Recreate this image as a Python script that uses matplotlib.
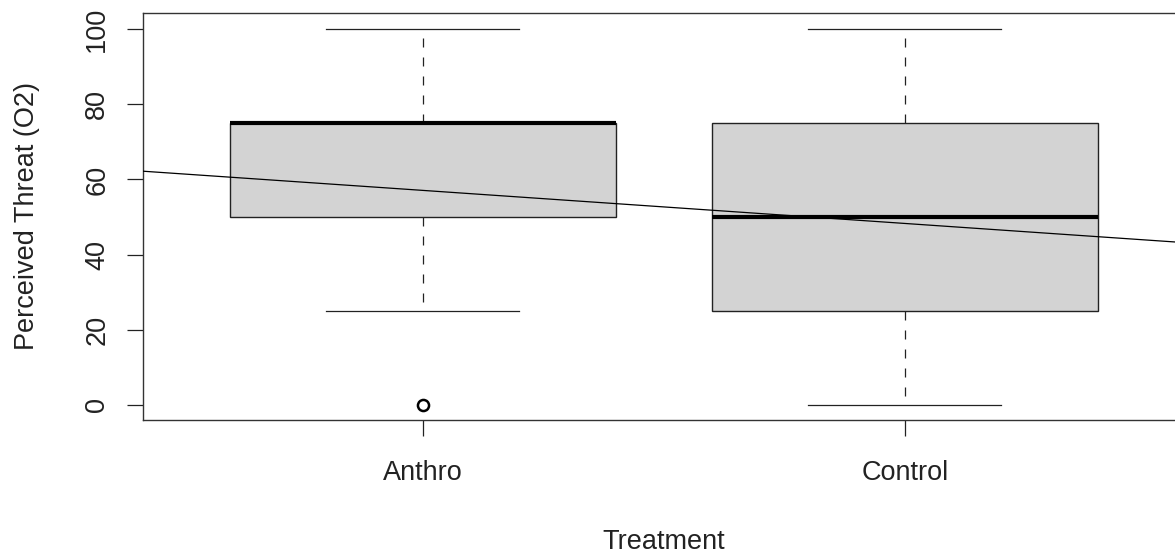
import matplotlib
matplotlib.use('Agg')
import matplotlib.pyplot as plt

plt.rcParams['font.family'] = ['Liberation Sans', 'DejaVu Sans']

# data
groups = ['Anthro', 'Control']
whislo = [25, 0]
q1 = [50, 25]
med = [75, 50]
q3 = [75, 75]
whishi = [100, 100]
fliers = [[0], []]
# abline of the fitted model (x coded 1, 2)
fit_intercept = 65.9
fit_slope = -8.8

stats = []
for i, g in enumerate(groups):
    stats.append(dict(label=g, whislo=whislo[i], q1=q1[i], med=med[i],
                      q3=q3[i], whishi=whishi[i], fliers=fliers[i]))

fig = plt.figure(figsize=(11.75, 5.54), dpi=100)
ax = fig.add_axes([143 / 1175, (554 - 420) / 554, (1184.6 - 143) / 1175, 407 / 554])

ax.bxp(stats, positions=[1, 2], widths=0.8, patch_artist=True,
       boxprops=dict(facecolor='#d3d3d3', edgecolor='#222222', linewidth=1.0),
       medianprops=dict(color='black', linewidth=3.0, solid_capstyle='butt'),
       whiskerprops=dict(color='#222222', linewidth=0.9, linestyle=(0, (7.2, 8))),
       capprops=dict(color='#222222', linewidth=0.9),
       capwidths=0.4,
       flierprops=dict(marker='o', markerfacecolor='none', markeredgecolor='black',
                       markersize=8, markeredgewidth=1.8))

ax.set_xlim(0.42, 2.58)
ax.set_ylim(-4, 104.3)

xs = [0.42, 2.58]
ax.plot(xs, [fit_intercept + fit_slope * x for x in xs], color='black', linewidth=0.9, zorder=5)

ax.set_yticks([0, 20, 40, 60, 80, 100])
ax.set_xticks([1, 2])
ax.set_xticklabels(groups)
for lbl in ax.get_yticklabels():
    lbl.set_rotation(90)
    lbl.set_va('center')
ax.tick_params(axis='both', length=11.5, width=0.9, color='#222222', labelsize=19.5,
               labelcolor='#222222')
ax.tick_params(axis='x', pad=17)
ax.tick_params(axis='y', pad=12)
for s in ax.spines.values():
    s.set_color('#333333')
    s.set_linewidth(1.0)

ax.set_xlabel('Treatment', fontsize=19.5, labelpad=31, color='#222222')
ax.set_ylabel('Perceived Threat (O2)', fontsize=19.5, labelpad=32, color='#222222')

fig.savefig('out.png', dpi=100)
